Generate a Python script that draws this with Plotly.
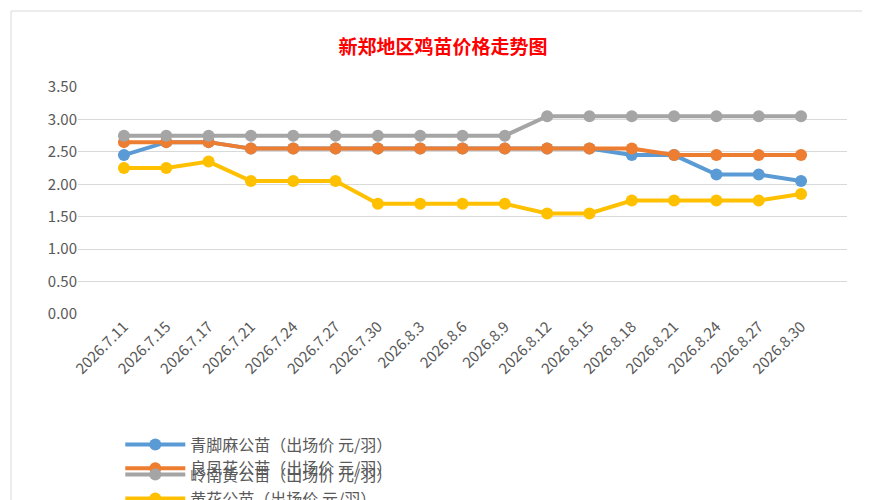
import plotly.graph_objects as go

dates = ["2026.7.11", "2026.7.15", "2026.7.17", "2026.7.21", "2026.7.24", "2026.7.27",
         "2026.7.30", "2026.8.3", "2026.8.6", "2026.8.9", "2026.8.12", "2026.8.15",
         "2026.8.18", "2026.8.21", "2026.8.24", "2026.8.27", "2026.8.30"]
qingjiaoma = [2.45, 2.65, 2.65, 2.55, 2.55, 2.55, 2.55, 2.55, 2.55, 2.55, 2.55, 2.55,
              2.45, 2.45, 2.15, 2.15, 2.05]
liangfenghua = [2.65, 2.65, 2.65, 2.55, 2.55, 2.55, 2.55, 2.55, 2.55, 2.55, 2.55, 2.55,
                2.55, 2.45, 2.45, 2.45, 2.45]
lingnanhuang = [2.75, 2.75, 2.75, 2.75, 2.75, 2.75, 2.75, 2.75, 2.75, 2.75, 3.05, 3.05,
                3.05, 3.05, 3.05, 3.05, 3.05]
huanghua = [2.25, 2.25, 2.35, 2.05, 2.05, 2.05, 1.70, 1.70, 1.70, 1.70, 1.55, 1.55,
            1.75, 1.75, 1.75, 1.75, 1.85]

series = [
    ("青脚麻公苗（出场价 元/羽）", qingjiaoma, "#5b9bd5", "legend"),
    ("良凤花公苗（出场价 元/羽）", liangfenghua, "#ed7d31", "legend"),
    ("岭南黄公苗（出场价 元/羽）", lingnanhuang, "#a5a5a5", "legend2"),
    ("黄花公苗（出场价 元/羽）", huanghua, "#ffc000", "legend2"),
]

fig = go.Figure()
for name, vals, color, lg in series:
    fig.add_trace(go.Scatter(x=dates, y=vals, name=name, mode="lines+markers",
                             line=dict(color=color, width=4), legend=lg,
                             marker=dict(color=color, size=12)))

W, H = 870, 500
ml, mr, mt, mb = 70, 31, 79, 194
pw, ph = W - ml - mr, H - mt - mb

leg_common = dict(orientation="h", xanchor="left", yanchor="top",
                  entrywidth=348, entrywidthmode="pixels", itemwidth=60,
                  font=dict(size=16, color="#595959"), bgcolor="rgba(0,0,0,0)")

fig.update_layout(
    width=W, height=H,
    margin=dict(l=ml, r=mr, t=mt, b=mb, autoexpand=False),
    paper_bgcolor="white", plot_bgcolor="white",
    font=dict(family="Noto Sans CJK SC", size=15, color="#595959"),
    title=dict(text="<b>新郑地区鸡苗价格走势图</b>", x=0.5, y=0.935,
               xanchor="center", font=dict(size=19, color="#ff0000")),
    xaxis=dict(tickangle=-45, showgrid=False, showline=False, ticks="",
               tickfont=dict(size=15, color="#595959")),
    yaxis=dict(range=[0, 3.5], dtick=0.5, tickformat=".2f", gridcolor="#d9d9d9",
               zeroline=False, showline=False, tickfont=dict(size=15, color="#595959")),
    showlegend=True,
    legend=dict(x=0.055, y=-0.5, **leg_common),
    legend2=dict(x=0.055, y=-0.633, **leg_common),
    shapes=[dict(type="rect", xref="paper", yref="paper",
                 x0=-(ml - 3) / pw, x1=1 + (mr - 3) / pw,
                 y0=-(mb - 3) / ph, y1=1 + (mt - 3) / ph,
                 line=dict(color="#d9d9d9", width=1))],
)

fig.write_html("out.html")
